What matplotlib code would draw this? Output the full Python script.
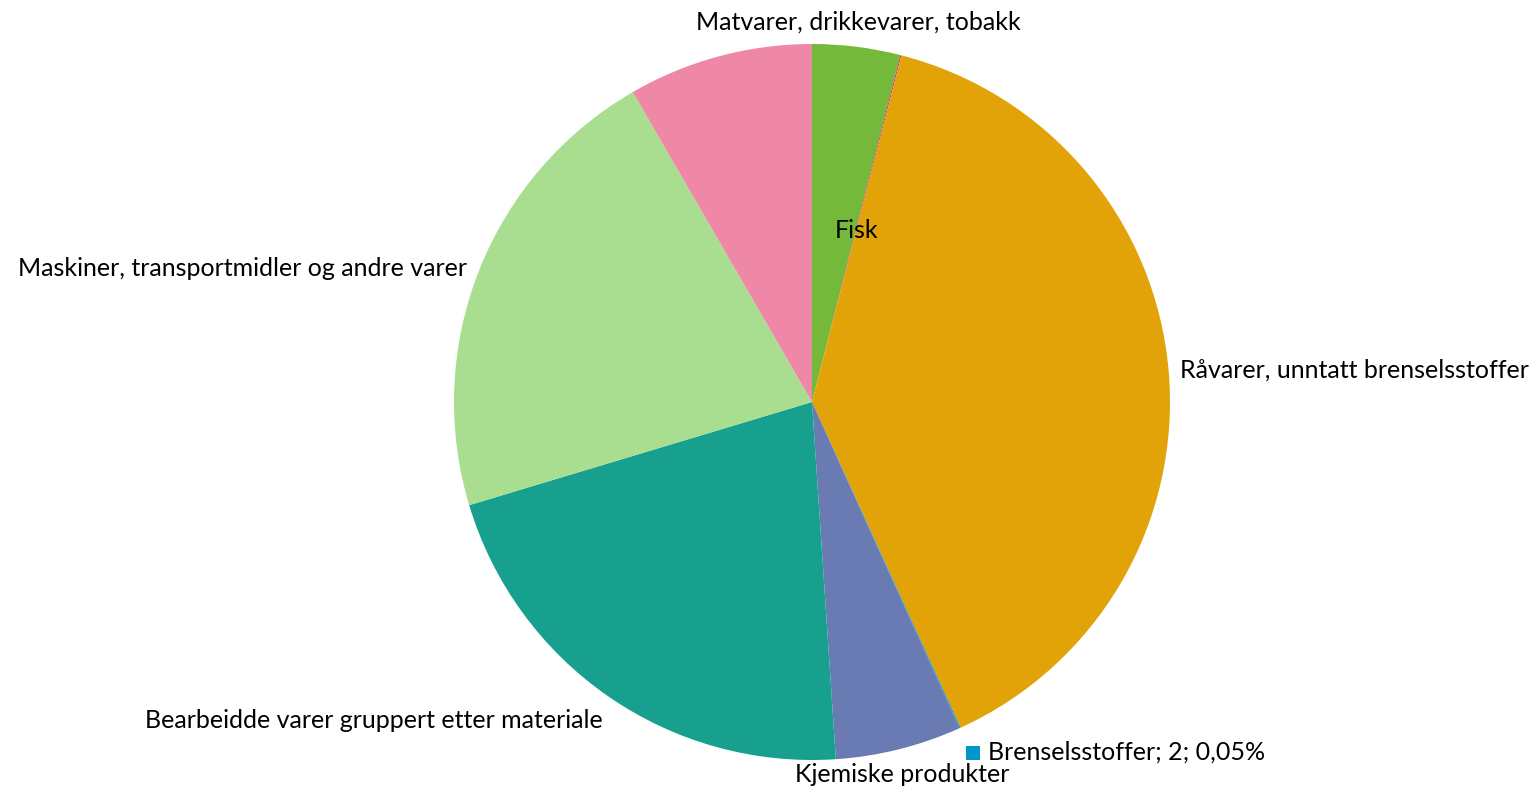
import matplotlib
matplotlib.use("Agg")
import matplotlib.pyplot as plt

categories = ["Matvarer, drikkevarer, tobakk", "Fisk", "Råvarer, unntatt brenselsstoffer",
              "Brenselsstoffer", "Kjemiske produkter", "Bearbeidde varer gruppert etter materiale",
              "Maskiner, transportmidler og andre varer", "Diverse"]
values = [159, 2, 1568, 2, 228, 857, 853, 334]
colors = ["#74b93a", "#d8336f", "#e2a308", "#0096c8", "#6a7bb3", "#17a08e", "#a9dd8f", "#ef88a7"]

plt.rcParams['font.family'] = ['Lato', 'DejaVu Sans']

W, H = 1539, 792
fig = plt.figure(figsize=(W/100, H/100), dpi=100)
ax = fig.add_axes([0, 0, 1, 1])
ax.set_xlim(0, W)
ax.set_ylim(0, H)
ax.set_aspect('equal')
ax.axis('off')

cx, cy, r = 812, H - 402, 358
ax.pie(values, colors=colors, startangle=90, counterclock=False,
       center=(cx, cy), radius=r, wedgeprops=dict(linewidth=0))
ax.set_xlim(0, W)
ax.set_ylim(0, H)

fs = 18
def t(x, y, s, ha):
    ax.text(x, H - y, s, ha=ha, va='center', fontsize=fs, color='black')

t(858, 22, categories[0], 'center')
t(857, 230, categories[1], 'center')
t(1180, 370, categories[2], 'left')
t(467, 268, categories[6], 'right')
t(603, 720, categories[5], 'right')
t(902, 775, categories[4], 'center')
ax.text(988, H - 752, "Brenselsstoffer; 2; 0,05%", ha='left', va='center', fontsize=fs, color='black')
ax.add_patch(plt.Rectangle((966, H - 760), 14, 14, color=colors[3], linewidth=0))

fig.savefig("out.png", dpi=100)
